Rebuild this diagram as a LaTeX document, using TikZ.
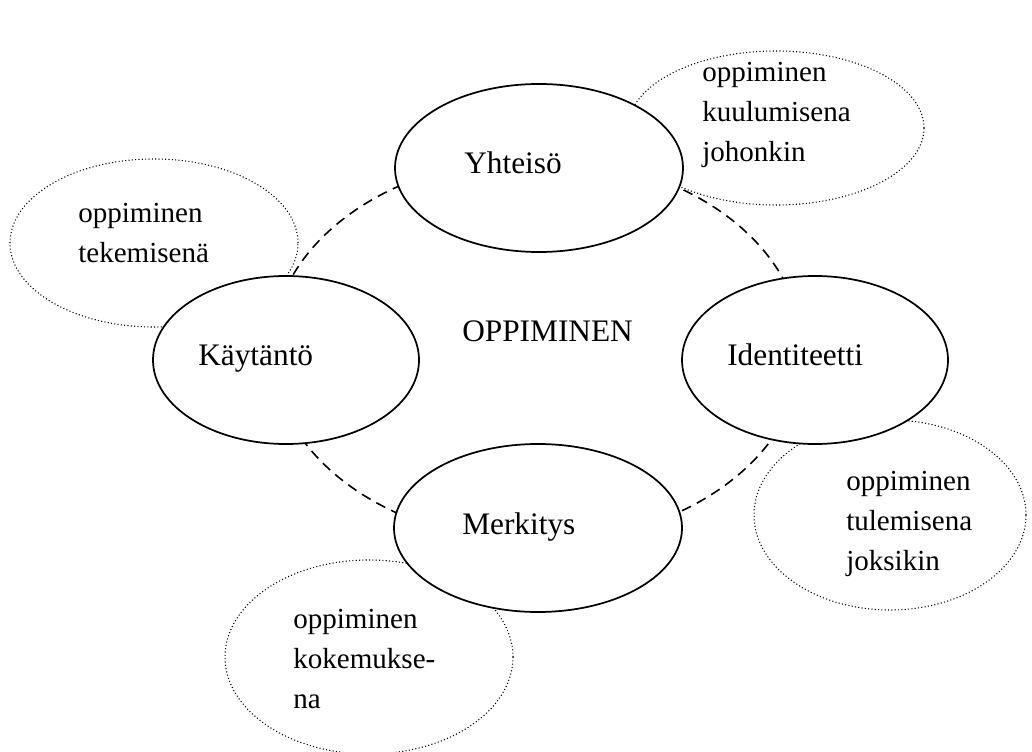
\documentclass[tikz,border=0pt]{standalone}
\usepackage{fontspec}
\setmainfont{Liberation Serif}
\usetikzlibrary{shapes.geometric}

\begin{document}
\begin{tikzpicture}[x=0.75pt, y=-0.75pt,
  concept/.style={ellipse, draw, line width=1.3pt, fill=white, inner sep=0pt},
  aspect/.style={ellipse, draw, line width=0.8pt, dash pattern=on 0.8pt off 1.7pt, inner sep=0pt},
  ring/.style={ellipse, draw, line width=1.2pt, dash pattern=on 7.5pt off 5pt, inner sep=0pt},
  biglabel/.style={anchor=base west, inner sep=0pt, font=\fontsize{23.5}{28}\selectfont},
  smalllabel/.style={anchor=base west, inner sep=0pt, font=\fontsize{21.8}{30}\selectfont}
]
\useasboundingbox (0,0) rectangle (1032,752);
\clip (0,0) rectangle (1032,752);

% the four ways of learning, dotted
\node[aspect, minimum width=296*0.75pt, minimum height=154*0.75pt] (belong) at (776,128) {};
\node[aspect, minimum width=288*0.75pt, minimum height=168*0.75pt] (doing) at (154,243) {};
\node[aspect, minimum width=272*0.75pt, minimum height=190*0.75pt] (becoming) at (890,515) {};
\node[aspect, minimum width=288*0.75pt, minimum height=194*0.75pt] (experience) at (369,657) {};

% dashed ring joining the four components
\node[ring, minimum width=530*0.75pt, minimum height=384*0.75pt] (cycle) at (537,350) {};

% the four components
\node[concept, minimum width=288*0.75pt, minimum height=168*0.75pt] (community) at (539,168) {};
\node[concept, minimum width=266*0.75pt, minimum height=168*0.75pt] (practice) at (286,360) {};
\node[concept, minimum width=266*0.75pt, minimum height=168*0.75pt] (identity) at (815,360) {};
\node[concept, minimum width=288*0.75pt, minimum height=168*0.75pt] (meaning) at (538,528) {};

% labels
\node[biglabel] (tcommunity) at (464,174) {Yhteisö};
\node[biglabel] (tpractice) at (198,366) {Käytäntö};
\node[biglabel] (tidentity) at (727,366) {Identiteetti};
\node[biglabel] (tmeaning) at (462,534) {Merkitys};
\node[biglabel] (tlearning) at (462,342) {OPPIMINEN};

\node[smalllabel] (tbelong) at (702,82)
  {\begin{tabular}[t]{@{}l@{}}oppiminen\\kuulumisena\\johonkin\end{tabular}};
\node[smalllabel] (tdoing) at (78,223)
  {\begin{tabular}[t]{@{}l@{}}oppiminen\\tekemisenä\end{tabular}};
\node[smalllabel] (tbecoming) at (846,490)
  {\begin{tabular}[t]{@{}l@{}}oppiminen\\tulemisena\\joksikin\end{tabular}};
\node[smalllabel] (texperience) at (293,628)
  {\begin{tabular}[t]{@{}l@{}}oppiminen\\kokemukse-\\na\end{tabular}};
\end{tikzpicture}
\end{document}
